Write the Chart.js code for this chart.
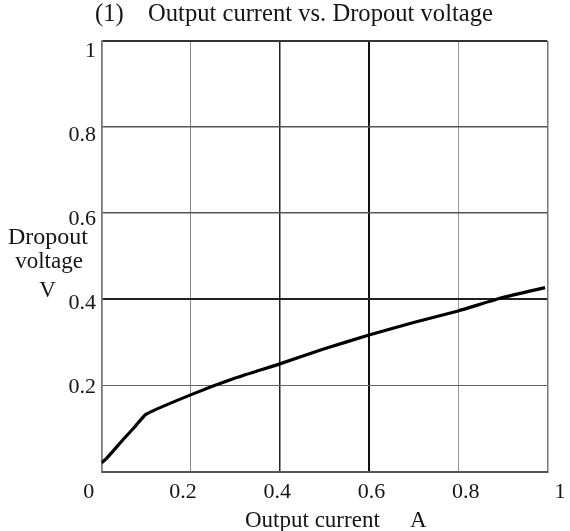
<!DOCTYPE html>
<html>
<head>
<meta charset="utf-8">
<script src="https://cdn.jsdelivr.net/npm/chart.js@4.4.0/dist/chart.umd.min.js"></script>
<style>
  html, body { margin: 0; padding: 0; background: #fff; }
  #wrap { width: 570px; height: 531px; }
</style>
</head>
<body>
<div id="wrap"><canvas id="c" width="570" height="531"></canvas></div>
<script>
// ---- data ----
const outputCurrent = [0, 0.012, 0.05, 0.075, 0.1, 0.2, 0.3, 0.4, 0.5, 0.6, 0.7, 0.8, 0.9, 0.995];
const dropoutVoltage = [0.02, 0.031, 0.076, 0.104, 0.133, 0.178, 0.217, 0.25, 0.285, 0.317, 0.346, 0.373, 0.404, 0.427];
const xTickValues = [0, 0.2, 0.4, 0.6, 0.8, 1];
const xTickLabels = ['0', '0.2', '0.4', '0.6', '0.8', '1'];
const yTickValues = [0.2, 0.4, 0.6, 0.8, 1];
const yTickLabels = ['0.2', '0.4', '0.6', '0.8', '1'];
const titleNumber = '(1)';
const titleText = 'Output current vs. Dropout voltage';
const xTitleParts = ['Output current', 'A'];
const yTitleLines = ['Dropout', 'voltage', 'V'];

// ---- styles ----
const xGridColors = ['#777', '#888', '#222', '#111', '#999', '#777'];
const xGridWidths = [1.5, 1, 1.5, 2, 1, 1.5];
const yGridColors = ['#555', '#666', '#222', '#555', '#555', '#333'];
const yGridWidths = [2, 1, 2, 1.5, 1.5, 2];
const FONT = '"Liberation Serif", "Times New Roman", serif';

const points = outputCurrent.map((x, i) => ({ x: x, y: dropoutVoltage[i] }));

const textPlugin = {
  id: 'textPlugin',
  afterDraw(chart) {
    const ctx = chart.ctx;
    const xs = chart.scales.x, ys = chart.scales.y;
    ctx.save();
    ctx.fillStyle = '#151515';

    // title
    ctx.font = '24.6px ' + FONT;
    ctx.textAlign = 'left';
    ctx.textBaseline = 'alphabetic';
    ctx.fillText(titleNumber, 95, 21);
    ctx.fillText(titleText, 148, 21);

    // x tick labels (spread slightly wider than the grid, as in the reference)
    ctx.font = '22px ' + FONT;
    ctx.textAlign = 'center';
    const x0 = xs.getPixelForValue(0), x1 = xs.getPixelForValue(1);
    const cx = (x0 + x1) / 2;
    xTickValues.forEach((v, i) => {
      const px = cx + (xs.getPixelForValue(v) - cx) * 1.057;
      ctx.fillText(xTickLabels[i], px, 498);
    });

    // y tick labels
    ctx.textAlign = 'right';
    ctx.textBaseline = 'middle';
    const yRef = ys.getPixelForValue(0.2);
    yTickValues.forEach((v, i) => {
      const py = yRef + (ys.getPixelForValue(v) - yRef) * 0.975 + 2;
      ctx.fillText(yTickLabels[i], 96, py);
    });

    // x axis title
    ctx.font = '23px ' + FONT;
    ctx.textAlign = 'left';
    ctx.textBaseline = 'alphabetic';
    ctx.fillText(xTitleParts[0], 245, 527);
    ctx.fillText(xTitleParts[1], 410, 527);

    // y axis title (horizontal, three lines)
    ctx.textAlign = 'center';
    ctx.font = '24px ' + FONT;
    ctx.fillText(yTitleLines[0], 48, 244);
    ctx.font = '23px ' + FONT;
    ctx.fillText(yTitleLines[1], 49, 268);
    ctx.fillText(yTitleLines[2], 47.5, 297);
    ctx.restore();
  }
};

new Chart(document.getElementById('c'), {
  type: 'scatter',
  data: {
    datasets: [{
      data: points,
      showLine: true,
      borderColor: '#000',
      borderWidth: 3.2,
      pointRadius: 0,
      tension: 0.15,
      fill: false
    }]
  },
  options: {
    responsive: false,
    animation: false,
    layout: { padding: { left: 101.5, right: 22.7, top: 41, bottom: 59.5 } },
    plugins: { legend: { display: false }, tooltip: { enabled: false }, title: { display: false } },
    scales: {
      x: {
        type: 'linear', min: 0, max: 1,
        ticks: { display: false, stepSize: 0.2 },
        grid: {
          drawTicks: false,
          color: c => xGridColors[c.index] || '#888',
          lineWidth: c => xGridWidths[c.index] || 1
        },
        border: { display: true, color: '#555', width: 2 },
        title: { display: false }
      },
      y: {
        type: 'linear', min: 0, max: 1,
        ticks: { display: false, stepSize: 0.2 },
        grid: {
          drawTicks: false,
          color: c => yGridColors[c.index] || '#888',
          lineWidth: c => yGridWidths[c.index] || 1
        },
        border: { display: true, color: '#777', width: 1.5 },
        title: { display: false }
      }
    }
  },
  plugins: [textPlugin]
});
</script>
</body>
</html>
